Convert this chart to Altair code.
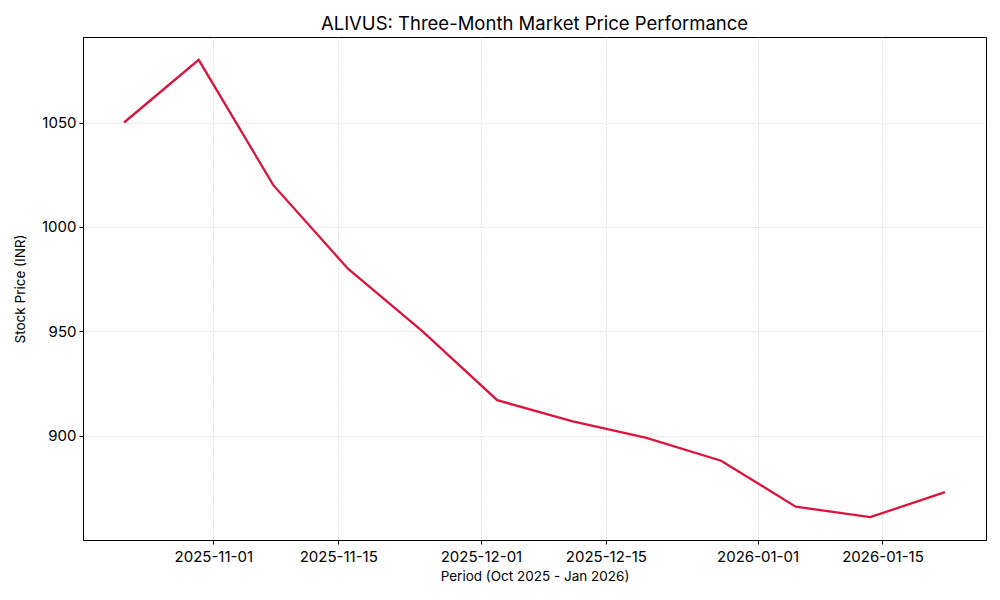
import altair as alt
import pandas as pd

dates = [
    "2025-10-22T00:00:00Z", "2025-10-30T08:44:00Z", "2025-11-07T17:27:00Z",
    "2025-11-16T02:11:00Z", "2025-11-24T10:55:00Z", "2025-12-02T19:38:00Z",
    "2025-12-11T04:22:00Z", "2025-12-19T13:05:00Z", "2025-12-27T21:49:00Z",
    "2026-01-05T06:33:00Z", "2026-01-13T15:16:00Z", "2026-01-22T00:00:00Z",
]
prices = [1050, 1080, 1020, 980, 950, 917, 907, 899, 888, 866, 861, 873]
y_ticks = [900, 950, 1000, 1050]
x_ticks = [(2025, 11, 1), (2025, 11, 15), (2025, 12, 1), (2025, 12, 15), (2026, 1, 1), (2026, 1, 15)]

df = pd.DataFrame({"date": dates, "price": prices})

FONT = "Inter"

x_vals = [alt.DateTime(year=y, month=m, date=d, utc=True) for y, m, d in x_ticks]

chart = alt.Chart(df).mark_line(color="#DC143C", strokeWidth=2.3).encode(
    x=alt.X(
        "date:T",
        scale=alt.Scale(
            type="utc",
            domain=[alt.DateTime(year=2025, month=10, date=17, hours=9, minutes=36, utc=True),
                    alt.DateTime(year=2026, month=1, date=26, hours=14, minutes=24, utc=True)],
        ),
        axis=alt.Axis(
            title="Period (Oct 2025 - Jan 2026)",
            values=x_vals,
            labelExpr="utcFormat(datum.value, '%Y-%m-%d')",
            labelAngle=0,
            labelPadding=5,
            titlePadding=5,
        ),
    ),
    y=alt.Y(
        "price:Q",
        scale=alt.Scale(domain=[850.05, 1090.95], nice=False, zero=False),
        axis=alt.Axis(title="Stock Price (INR)", values=y_ticks, format="d", titlePadding=14),
    ),
).properties(
    width=903,
    height=503,
    title=alt.Title("ALIVUS: Three-Month Market Price Performance", fontSize=18.5,
                    font=FONT, fontWeight="normal", color="black", anchor="middle", offset=4),
    autosize=alt.AutoSizeParams(type="none"),
    padding={"left": 75, "top": 29, "right": 6, "bottom": 52},
).configure_view(
    stroke="black", strokeWidth=1
).configure_axis(
    labelFont=FONT, titleFont=FONT, labelFontSize=15, titleFontSize=13.5,
    labelColor="black", titleColor="black", titleFontWeight="normal",
    domainColor="black", tickColor="black", tickSize=4, tickWidth=1,
    gridColor="#c4c4c4", gridDash=[1, 2], gridWidth=0.9, labelPadding=3,
    labelOverlap=False,
)

chart.save("out.html", embed_options={"renderer": "svg", "actions": False})
